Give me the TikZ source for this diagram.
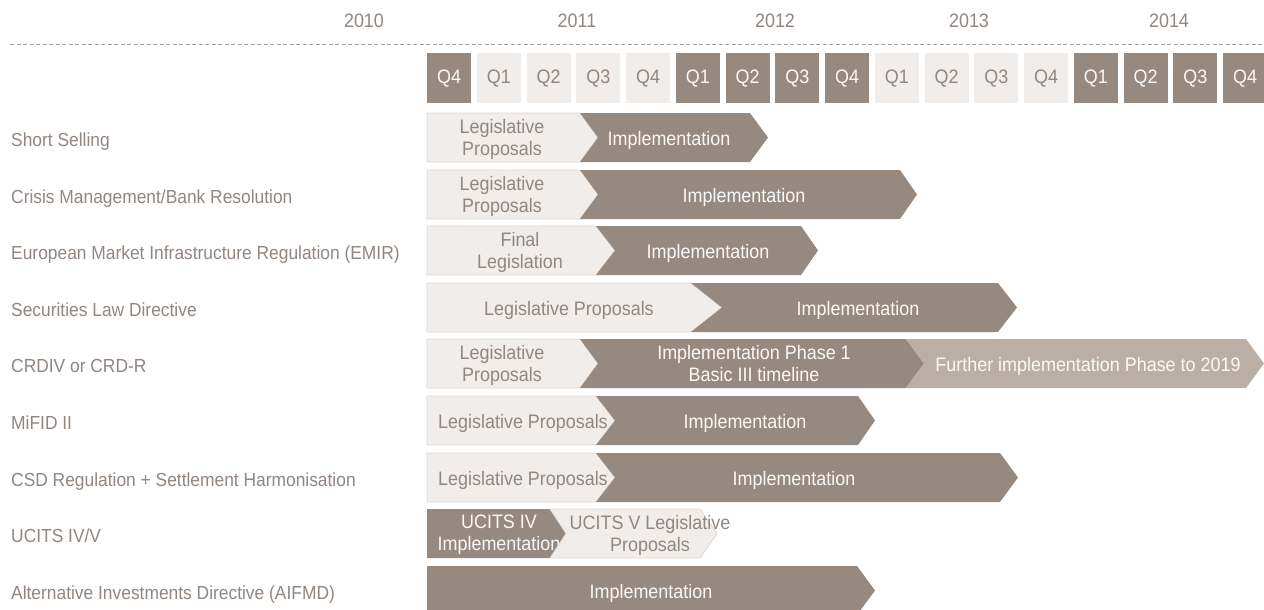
\documentclass[tikz,border=0pt]{standalone}
\usepackage{fontspec}
\setmainfont{Liberation Sans}[FakeStretch=0.92]

\definecolor{taupe}{HTML}{968A80}
\definecolor{mist}{HTML}{B9AFA6}
\definecolor{pale}{HTML}{F1EDEB}
\definecolor{paleedge}{HTML}{DDD7D3}
\definecolor{ink}{HTML}{918680}
\definecolor{snow}{HTML}{FBF9F7}

% style, top y, left x, notch depth, right x, tip depth
\newcommand{\chevron}[6]{%
  \path[#1] (#3,#2) -- (#5,#2) -- ({#5+#6},{#2+24.5}) -- (#5,{#2+49})
    -- (#3,{#2+49}) -- ({#3+#4},{#2+24.5}) -- cycle;}

\begin{document}
\begin{tikzpicture}[x = 1pt , y = -1pt , font = \fontsize{19.5}{22}\selectfont,
    lbl/.style = {anchor = base west , text = ink , inner sep = 0 , font = \fontsize{18.9}{22}\selectfont},
    year/.style = {anchor = base , text = ink , inner sep = 0},
    qdark/.style = {fill = taupe , text = snow , minimum width = 44pt , minimum height = 50pt , inner sep = 0 , anchor = north west},
    qpale/.style = {qdark , fill = pale , text = ink},
    lp/.style = {fill = pale , draw = paleedge , line width = 0.8pt},
    im/.style = {fill = taupe},
    far/.style = {fill = mist},
    onpale/.style = {text = ink , inner sep = 0 , align = center},
    ontaupe/.style = {text = snow , inner sep = 0 , align = center}]
  \useasboundingbox (0,0) rectangle (1264,610);
  % years and quarters
  \node [year] (y2010) at (364,28) {2010};
  \node [year] (y2011) at (577,28) {2011};
  \node [year] (y2012) at (775,28) {2012};
  \node [year] (y2013) at (969,28) {2013};
  \node [year] (y2014) at (1169,28) {2014};
  \coordinate (rule-w) at (10,44);
  \coordinate (rule-e) at (1264,44);
  \draw [ink!80 , line width = 0.8pt , dash pattern = on 4pt off 2.5pt] (rule-w) -- (rule-e);
  \foreach \q/\s [count=\i from 0] in {4/qdark,1/qpale,2/qpale,3/qpale,4/qpale,1/qdark,2/qdark,3/qdark,4/qdark,1/qpale,2/qpale,3/qpale,4/qpale,1/qdark,2/qdark,3/qdark,4/qdark}
    \node [\s] (q\i) at ({427+49.75*\i},53) {Q\q};
  % row labels
  \node [lbl] (short) at (11,146) {Short Selling};
  \node [lbl] (crisis) at (11,203) {Crisis Management/Bank Resolution};
  \node [lbl] (emir) at (11,259) {European Market Infrastructure Regulation (EMIR)};
  \node [lbl] (sld) at (11,316) {Securities Law Directive};
  \node [lbl] (crd) at (11,372) {CRDIV or CRD-R};
  \node [lbl] (mifid) at (11,429) {MiFID II};
  \node [lbl] (csd) at (11,486) {CSD Regulation + Settlement Harmonisation};
  \node [lbl] (ucits) at (11,542) {UCITS IV/V};
  \node [lbl] (aifmd) at (11,599) {Alternative Investments Directive (AIFMD)};
  % Short Selling
  \chevron{lp}{113}{427}{0}{580}{18}
  \chevron{im}{113}{580}{18}{750}{18}
  \node [onpale] (short-lp) at (502,139) {Legislative\\Proposals};
  \node [ontaupe , anchor = base] (short-im) at (669,145) {Implementation};
  % Crisis Management
  \chevron{lp}{170}{427}{0}{580}{18}
  \chevron{im}{170}{580}{18}{900}{17}
  \node [onpale] (crisis-lp) at (502,196) {Legislative\\Proposals};
  \node [ontaupe , anchor = base] (crisis-im) at (744,202) {Implementation};
  % EMIR
  \chevron{lp}{226}{427}{0}{596}{19}
  \chevron{im}{226}{596}{19}{801}{17}
  \node [onpale] (emir-fl) at (520,252) {Final\\Legislation};
  \node [ontaupe , anchor = base] (emir-im) at (708,258) {Implementation};
  % Securities Law Directive
  \chevron{lp}{283}{427}{0}{691}{31}
  \chevron{im}{283}{691}{31}{998}{19}
  \node [onpale , anchor = base] (sld-lp) at (569,315) {Legislative Proposals};
  \node [ontaupe , anchor = base] (sld-im) at (858,315) {Implementation};
  % CRDIV
  \chevron{lp}{339}{427}{0}{580}{18}
  \chevron{im}{339}{580}{18}{906}{18}
  \chevron{far}{339}{906}{18}{1246}{18}
  \node [onpale] (crd-lp) at (502,365) {Legislative\\Proposals};
  \node [ontaupe] (crd-im) at (754,364) {Implementation Phase 1\\Basic III timeline};
  \node [ontaupe , anchor = base] (crd-far) at (1088,371) {Further implementation Phase to 2019};
  % MiFID II
  \chevron{lp}{396}{427}{0}{596}{19}
  \chevron{im}{396}{596}{19}{858}{17}
  \node [onpale , anchor = base] (mifid-lp) at (523,428) {Legislative Proposals};
  \node [ontaupe , anchor = base] (mifid-im) at (745,428) {Implementation};
  % CSD Regulation
  \chevron{lp}{453}{427}{0}{596}{19}
  \chevron{im}{453}{596}{19}{1000}{18}
  \node [onpale , anchor = base] (csd-lp) at (523,485) {Legislative Proposals};
  \node [ontaupe , anchor = base] (csd-im) at (794,485) {Implementation};
  % UCITS IV/V
  \chevron{im}{509}{427}{0}{550}{16}
  \node [ontaupe] (ucits-im) at (499,535) {UCITS IV\\Implementation};
  \chevron{lp}{509}{550}{16}{700}{17}
  \node [onpale] (ucits-lp) at (650,535) {UCITS V Legislative\\Proposals};
  % AIFMD
  \chevron{im}{566}{427}{0}{857}{18}
  \node [ontaupe , anchor = base] (aifmd-im) at (651,598) {Implementation};
\end{tikzpicture}
\end{document}
